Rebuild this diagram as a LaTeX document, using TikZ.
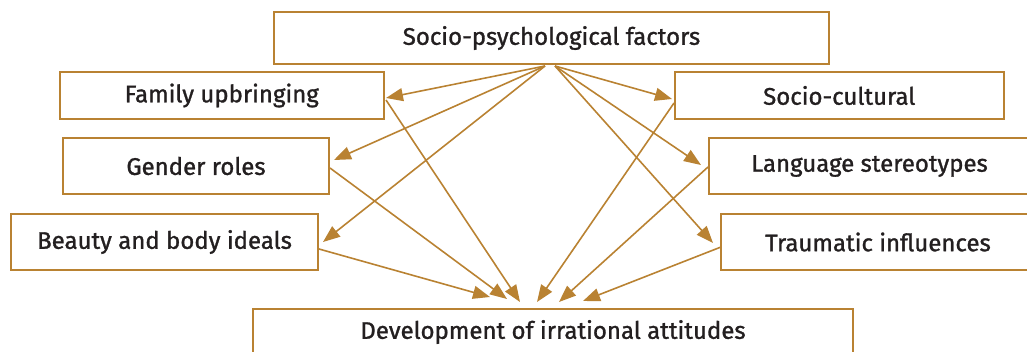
\documentclass[tikz,border=0pt]{standalone}
\usepackage{fontspec}
\setmainfont{Fira Sans}[FakeBold=1.2]
\usetikzlibrary{arrows.meta,calc}
\definecolor{gold}{HTML}{B98232}
\definecolor{ink}{HTML}{231F20}
\begin{document}
\begin{tikzpicture}[x=1pt,y=-1pt,
  box/.style={draw=gold,line width=2pt,fill=white,text=ink,inner sep=0pt,font=\fontsize{24}{28}\selectfont},
  link/.style={draw=gold,line width=1.6pt,-{Triangle[length=17pt,width=13pt]}}]
\useasboundingbox (0,0) rectangle (1027,351);
\clip (0,0) rectangle (1027,351);
\node[box,minimum width=555pt,minimum height=52pt] (top) at (551.5,38) {Socio-psychological factors};
\node[box,minimum width=323.5pt,minimum height=47pt] (fam) at (221.75,95.5) {Family upbringing};
\node[box,minimum width=328.5pt,minimum height=47pt] (soc) at (839.25,95.5) {Socio-cultural};
\node[box,minimum width=266pt,minimum height=56pt] (gen) at (196,166) {Gender roles};
\node[box,minimum width=321pt,minimum height=56pt] (lang) at (869.5,166) {Language stereotypes};
\node[box,minimum width=307pt,minimum height=56pt] (beauty) at (164.5,242) {Beauty and body ideals};
\node[box,minimum width=314pt,minimum height=56pt] (trauma) at (878,242) {Traumatic influences};
\node[box,minimum width=600pt,minimum height=46pt] (dev) at (553,332) {Development of irrational attitudes};
% from the top box
\draw[link] ($(top.south)+(-6.5,1)$) -- ($(fam.east)+(1.5,2.5)$);
\draw[link] ($(top.south)+(-6.5,1)$) -- ($(gen.east)+(4,-6)$);
\draw[link] ($(top.south)+(-6.5,1)$) -- ($(beauty.east)+(4,0)$);
\draw[link] ($(top.south)+(3.5,1)$) -- ($(soc.west)+(-2,3.5)$);
\draw[link] ($(top.south)+(3.5,1)$) -- ($(lang.west)+(-7,-1)$);
\draw[link] ($(top.south)+(3.5,1)$) -- ($(trauma.west)+(-7,1)$);
% to the bottom box
\draw[link] ($(beauty.east)+(0,7)$) -- ($(dev.north)+(-63,-11)$);
\draw[link] ($(gen.east)+(0,2)$) -- ($(dev.north)+(-46,-9)$);
\draw[link] ($(fam.east)+(1.5,4.5)$) -- ($(dev.north)+(-33,-6)$);
\draw[link] ($(soc.west)+(0,7.5)$) -- ($(dev.north)+(-16,-6)$);
\draw[link] ($(lang.west)+(0,1)$) -- ($(dev.north)+(6,-6)$);
\draw[link] ($(trauma.west)+(1,5)$) -- ($(dev.north)+(30,-7)$);
\end{tikzpicture}
\end{document}
